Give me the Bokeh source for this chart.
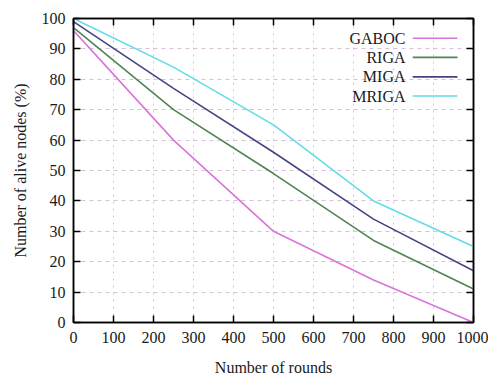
from bokeh.plotting import figure
from bokeh.models import LinearAxis, Range1d, FixedTicker, Label, ColumnDataSource
from bokeh.embed import file_html
from bokeh.resources import INLINE

rounds = [0, 250, 500, 750, 1000]
gaboc = [96, 60, 30, 14, 0]
riga = [97, 70, 49, 27, 11]
miga = [99, 77, 56, 34, 17]
mriga = [100, 84, 65, 40, 25]
names = ["GABOC", "RIGA", "MIGA", "MRIGA"]
colors = ["#d874da", "#4f8550", "#454585", "#62dde6"]
x_ticks = [0, 100, 200, 300, 400, 500, 600, 700, 800, 900, 1000]
y_ticks = [0, 10, 20, 30, 40, 50, 60, 70, 80, 90, 100]

FONT = "Liberation Serif"

p = figure(width=488, height=378, output_backend="svg", toolbar_location=None,
           x_range=Range1d(0, 1000), y_range=Range1d(0, 100),
           min_border_left=73, min_border_right=15, min_border_top=18, min_border_bottom=54,
           x_axis_label="Number of rounds", y_axis_label="Number of alive nodes (%)")
p.background_fill_color = "white"
p.border_fill_color = "white"
p.outline_line_color = "black"
p.outline_line_width = 1.5

for ax, ticks in ((p.xaxis[0], x_ticks), (p.yaxis[0], y_ticks)):
    ax.ticker = FixedTicker(ticks=ticks)
    ax.major_tick_in = 7
    ax.major_tick_out = 0
    ax.minor_tick_in = 0
    ax.minor_tick_out = 0
    ax.axis_line_color = "black"
    ax.axis_line_width = 1.5
    ax.major_tick_line_color = "black"
    ax.major_tick_line_width = 1.5
    ax.major_label_text_font = FONT
    ax.major_label_text_font_size = "16px"
    ax.major_label_text_color = "#1a1a1a"
    ax.axis_label_text_font = FONT
    ax.axis_label_text_font_size = "16px"
    ax.axis_label_text_font_style = "normal"
    ax.axis_label_text_color = "#1a1a1a"
p.xaxis.major_label_standoff = 9
p.xaxis.axis_label_standoff = 13
p.yaxis.major_label_standoff = 8
p.yaxis.axis_label_standoff = 10

for loc, ticks in (("above", x_ticks), ("right", y_ticks)):
    ax = LinearAxis(ticker=FixedTicker(ticks=ticks),
                    major_label_overrides={t: "" for t in ticks})
    ax.major_tick_in = 7
    ax.major_tick_out = 0
    ax.minor_tick_in = 0
    ax.minor_tick_out = 0
    ax.major_label_standoff = 0
    ax.axis_line_color = "black"
    ax.axis_line_width = 1.5
    ax.major_tick_line_color = "black"
    ax.major_tick_line_width = 1.5
    p.add_layout(ax, loc)

p.xgrid.ticker = FixedTicker(ticks=x_ticks)
p.ygrid.ticker = FixedTicker(ticks=y_ticks)
p.xgrid.grid_line_color = "#d8c0d8"
p.xgrid.grid_line_dash = "2 5"
p.ygrid.grid_line_color = "#d8c0d8"
p.ygrid.grid_line_dash = "4 4"
p.grid.grid_line_width = 1

series = [gaboc, riga, miga, mriga]
for name, vals, col in zip(names, series, colors):
    p.line(rounds, vals, line_color=col, line_width=1.6)

# Legend (gnuplot style: text right-aligned, sample to the right)
leg_y = [93.5, 87.2, 80.8, 74.5]
text_x = 830
seg_x0, seg_x1 = 848, 960
for name, col, yy in zip(names, colors, leg_y):
    p.add_layout(Label(x=text_x, y=yy, text=name, text_align="right", text_baseline="middle",
                       text_font=FONT, text_font_size="16px", text_color="#1a1a1a"))
src = ColumnDataSource(dict(x0=[seg_x0] * 4, x1=[seg_x1] * 4, y=leg_y, c=colors))
p.segment(x0="x0", y0="y", x1="x1", y1="y", line_color="c", line_width=1.6, source=src)

open("out.html", "w").write(file_html(p, INLINE))
